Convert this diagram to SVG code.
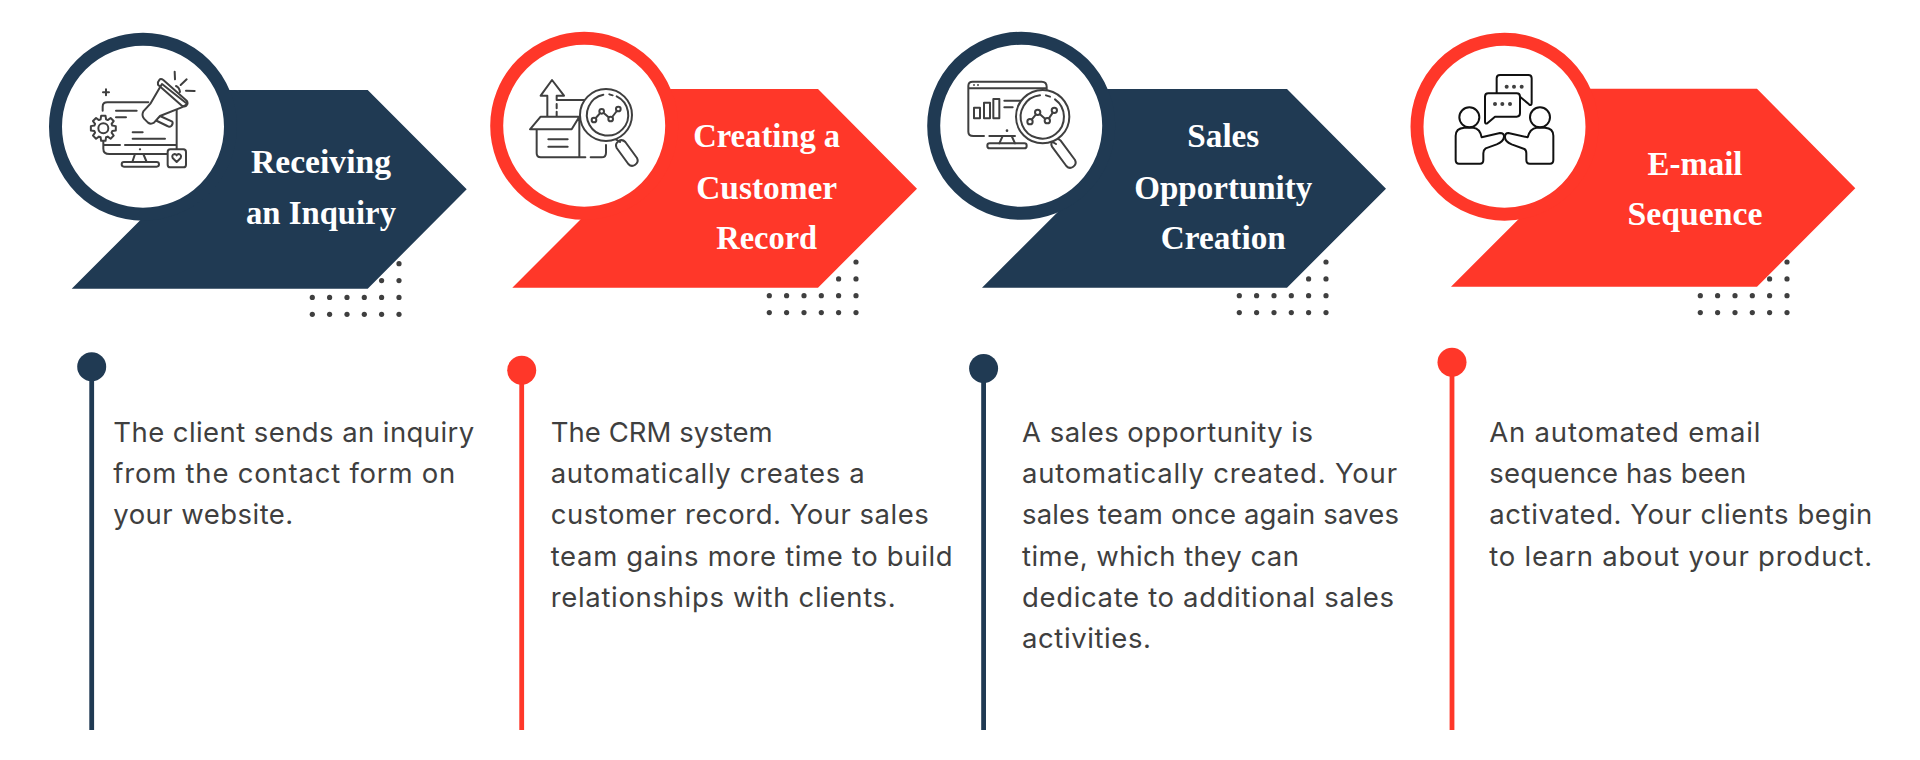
<svg xmlns="http://www.w3.org/2000/svg" xmlns:xlink="http://www.w3.org/1999/xlink" width="1920" height="760" viewBox="0 0 1920 760">
<style>
.navy{fill:#203a53}.red{fill:#ff3729}
.ring{fill:#fff;stroke-width:13}
.ring.n{stroke:#203a53}.ring.r{stroke:#ff3729}
.stem{stroke-width:4.8;fill:none}
.stem.n{stroke:#203a53}.stem.r{stroke:#ff3729}
.h{font-family:"Liberation Serif",serif;font-weight:700;font-size:34px;fill:#fff;text-anchor:middle}
.b{font-family:Inter,"Liberation Sans",sans-serif;font-size:27.5px;fill:#3f3f3f}
.dot{fill:#3f3f3f}
.ic{fill:none;stroke:#3f3f3f;stroke-width:6;stroke-linecap:round;stroke-linejoin:round}
.ic.k{stroke:#111}
.wf{fill:#fff}
.fd{fill:#3f3f3f;stroke:none}
</style>
<defs>
<g id="dots" class="dot">
<circle cx="86.7" cy="0" r="2.6"/>
<circle cx="69.3" cy="16.9" r="2.6"/><circle cx="86.7" cy="16.9" r="2.6"/>
<circle cx="0" cy="33.7" r="2.6"/><circle cx="17.3" cy="33.7" r="2.6"/><circle cx="34.7" cy="33.7" r="2.6"/><circle cx="52" cy="33.7" r="2.6"/><circle cx="69.3" cy="33.7" r="2.6"/><circle cx="86.7" cy="33.7" r="2.6"/>
<circle cx="0" cy="50.6" r="2.6"/><circle cx="17.3" cy="50.6" r="2.6"/><circle cx="34.7" cy="50.6" r="2.6"/><circle cx="52" cy="50.6" r="2.6"/><circle cx="69.3" cy="50.6" r="2.6"/><circle cx="86.7" cy="50.6" r="2.6"/>
</g>
</defs>
<rect width="1920" height="760" fill="#fff"/>

<g id="connectors">
<line class="stem n" x1="91.7" y1="367" x2="91.7" y2="730"/>
<line class="stem r" x1="521.7" y1="370" x2="521.7" y2="730"/>
<line class="stem n" x1="983.6" y1="369" x2="983.6" y2="730"/>
<line class="stem r" x1="1452" y1="362" x2="1452" y2="730"/>
</g>

<g id="step-1">
<polygon class="navy" points="229,90 367.7,90 466.7,189.3 367.7,288.7 71.7,288.7 160,200.4"/>
<circle class="ring n" cx="143" cy="126.7" r="87.5"/>
<use xlink:href="#dots" href="#dots" x="312.3" y="263.7"/>
<g transform="translate(80 70) scale(.33333)">
<path class="ic" d="M68 122V110Q68 97 82 97H205M290 115V238Q290 252 275 252H88Q70 252 70 236V212M70 225H120M135 225H290M165 252L157 276M190 252L200 276"/>
<rect class="ic" x="125" y="276" width="112" height="14" rx="7"/>
<path class="ic" d="M108 122H170M108 142H138M158 187H188M158 206H255M78 58V76M69 67H87M284 5L285 28M302 45L320 28M318 62L344 63"/>
<circle class="fd" cx="180" cy="238" r="3.5"/>
<polygon class="ic wf" transform="translate(70 175)" points="26.8,-8.2 37.4,-6.6 37.4,6.6 26.8,8.2 24.75,13.15 31.1,21.8 21.8,31.1 13.15,24.75 8.2,26.8 6.6,37.4 -6.6,37.4 -8.2,26.8 -13.15,24.75 -21.8,31.1 -31.1,21.8 -24.75,13.15 -26.8,8.2 -37.4,6.6 -37.4,-6.6 -26.8,-8.2 -24.75,-13.15 -31.1,-21.8 -21.8,-31.1 -13.15,-24.75 -8.2,-26.8 -6.6,-37.4 6.6,-37.4 8.2,-26.8 13.15,-24.75 21.8,-31.1 31.1,-21.8 24.75,-13.15"/>
<circle class="ic" cx="70" cy="175" r="15"/>
<path class="ic wf" d="M240 138L277 155Q280 160 274 168Q268 172 262 168L225 150Z"/>
<path class="ic wf" d="M246 42L322 102L305 112L240 138L222 158Q212 164 204 158L192 146Q184 136 190 124L212 100L240 52Z"/>
<path class="ic" d="M238 30Q242 24 250 30L320 92Q326 100 318 108Q312 112 304 106L234 44Q232 36 238 30ZM288 48Q298 52 300 66"/>
<rect class="ic wf" x="263" y="238" width="55" height="54" rx="8"/>
<path class="ic" d="M290 276L278 264Q274 254 284 252Q288 252 290 256Q292 252 296 252Q306 254 302 264Z"/>
</g>
<text class="h" x="321" y="173" textLength="140" lengthAdjust="spacingAndGlyphs">Receiving</text>
<text class="h" x="321" y="223.6" textLength="150" lengthAdjust="spacingAndGlyphs">an Inquiry</text>
</g>

<g id="step-2">
<polygon class="red" points="670.5,89 818,89 917,188.7 818,287.7 512.3,287.7 600,200"/>
<circle class="ring r" cx="584.2" cy="125.8" r="87.5"/>
<use xlink:href="#dots" href="#dots" x="769.3" y="262"/>
<g transform="translate(520 70) scale(.33333)">
<path class="ic" d="M50 178V250Q50 262 62 262H178M178 140V262H196M212 262H245Q258 262 258 248V225M30 178L62 140H178L155 178ZM85 208H143M85 230H143"/>
<path class="ic" d="M82 138V77H62L96 30L132 77H110V90M110 90H195M110 102V115M110 125V138"/>
<path class="ic" d="M283 205L300 216M316 216L351 264A16 16 0 0 1 325 282L290 234A16 16 0 0 1 316 216Z"/>
<circle class="ic wf" cx="258" cy="135" r="78"/>
<path class="ic" d="M290 79A62 62 0 1 1 250 74M268 73L278 76"/>
<path class="ic" d="M222 150L245 124L272 147L295 117"/>
<circle class="ic wf" cx="222" cy="150" r="7"/><circle class="ic wf" cx="245" cy="124" r="7"/><circle class="ic wf" cx="272" cy="147" r="7"/><circle class="ic wf" cx="295" cy="117" r="7"/>
</g>
<text class="h" x="766.7" y="147" textLength="147" lengthAdjust="spacingAndGlyphs">Creating a</text>
<text class="h" x="766.7" y="198.6" textLength="141" lengthAdjust="spacingAndGlyphs">Customer</text>
<text class="h" x="766.7" y="248.6" textLength="101" lengthAdjust="spacingAndGlyphs">Record</text>
</g>

<g id="step-3">
<polygon class="navy" points="1106.5,89 1287,89 1386,188.7 1287,287.7 982,287.7 1070,199.7"/>
<circle class="ring n" cx="1021.2" cy="125.8" r="87.5"/>
<use xlink:href="#dots" href="#dots" x="1239.3" y="262"/>
<g transform="translate(960 70) scale(.33333)">
<path class="ic" d="M25 185V48Q25 35 38 35H245Q260 35 260 50V62M25 55H258M25 185Q25 198 40 198H72M88 198H165M128 198L118 220M155 198L165 220"/>
<rect class="ic" x="82" y="220" width="118" height="15" rx="7"/>
<rect class="ic" x="42" y="113" width="18" height="32"/><rect class="ic" x="72" y="98" width="18" height="47"/><rect class="ic" x="100" y="87" width="18" height="58"/>
<path class="ic" d="M133 92H185M133 112H158"/>
<circle class="fd" cx="42" cy="45" r="2.8"/><circle class="fd" cx="54" cy="45" r="2.8"/><circle class="fd" cx="141" cy="182" r="4"/>
<path class="ic" d="M276 215L288 222M302 212L345 270A16 16 0 0 1 319 288L276 230A16 16 0 0 1 302 212Z"/>
<circle class="ic wf" cx="248" cy="140" r="80"/>
<path class="ic" d="M285 88A65 65 0 1 1 240 76M258 76L270 80"/>
<path class="ic" d="M210 155L233 127L262 152L283 121"/>
<circle class="ic wf" cx="210" cy="155" r="8"/><circle class="ic wf" cx="233" cy="127" r="8"/><circle class="ic wf" cx="262" cy="152" r="8"/><circle class="ic wf" cx="283" cy="121" r="8"/>
</g>
<text class="h" x="1223.3" y="147" textLength="72" lengthAdjust="spacingAndGlyphs">Sales</text>
<text class="h" x="1223.3" y="198.6" textLength="178" lengthAdjust="spacingAndGlyphs">Opportunity</text>
<text class="h" x="1223.3" y="248.6" textLength="125" lengthAdjust="spacingAndGlyphs">Creation</text>
</g>

<g id="step-4">
<polygon class="red" points="1590,88.7 1757,88.7 1855.3,188.3 1757,286.7 1451,286.7 1530,207.7"/>
<circle class="ring r" cx="1504.5" cy="126.7" r="87.5"/>
<use xlink:href="#dots" href="#dots" x="1700.3" y="262"/>
<g transform="translate(1445 65) scale(.33333)">
<path class="ic k" d="M155 85V40Q155 30 165 30H250Q260 30 260 40V113Q260 124 252 118L225 95"/>
<path class="ic k wf" d="M130 85H215Q225 85 225 95V145Q225 155 215 155H150L127 175Q120 178 120 170V95Q120 85 130 85Z"/>
<circle class="fd" cx="150" cy="117" r="6"/><circle class="fd" cx="172" cy="117" r="6"/><circle class="fd" cx="195" cy="117" r="6"/>
<circle class="fd" cx="185" cy="65" r="6"/><circle class="fd" cx="207" cy="65" r="6"/><circle class="fd" cx="230" cy="65" r="6"/>
<circle class="ic k" cx="73" cy="157" r="30"/>
<circle class="ic k" cx="285" cy="157" r="30"/>
<path class="ic k" d="M32 212Q32 190 58 188H85Q105 190 110 217L165 204Q178 204 177 216Q175 230 155 238L122 250Q115 255 115 265V285Q115 296 105 296H42Q32 296 32 285Z"/>
<path class="ic k" d="M325 212Q325 190 300 188H275Q255 190 248 217L190 204Q180 204 180 216Q180 230 200 238L238 252Q244 255 244 265V285Q244 296 254 296H315Q325 296 325 285Z"/>
</g>
<text class="h" x="1695" y="175.3" textLength="95" lengthAdjust="spacingAndGlyphs">E-mail</text>
<text class="h" x="1695" y="225.3" textLength="135" lengthAdjust="spacingAndGlyphs">Sequence</text>
</g>

<g id="detail-1">
<circle class="navy" cx="91.7" cy="366.7" r="14.5"/>
<text class="b" x="113.3" y="441.7" textLength="361">The client sends an inquiry</text>
<text class="b" x="113.3" y="482.7" textLength="342">from the contact form on</text>
<text class="b" x="113.3" y="524.3" textLength="180">your website.</text>
</g>
<g id="detail-2">
<circle class="red" cx="521.7" cy="370.3" r="14.5"/>
<text class="b" x="550.7" y="441.7" textLength="222">The CRM system</text>
<text class="b" x="550.7" y="482.7" textLength="314">automatically creates a</text>
<text class="b" x="550.7" y="524.3" textLength="378">customer record. Your sales</text>
<text class="b" x="550.7" y="565.7" textLength="402">team gains more time to build</text>
<text class="b" x="550.7" y="606.7" textLength="345">relationships with clients.</text>
</g>
<g id="detail-3">
<circle class="navy" cx="983.6" cy="368.6" r="14.5"/>
<text class="b" x="1022" y="441.7" textLength="291">A sales opportunity is</text>
<text class="b" x="1022" y="482.7" textLength="375">automatically created. Your</text>
<text class="b" x="1022" y="524.3" textLength="377">sales team once again saves</text>
<text class="b" x="1022" y="565.7" textLength="277">time, which they can</text>
<text class="b" x="1022" y="606.7" textLength="372">dedicate to additional sales</text>
<text class="b" x="1022" y="648.3" textLength="129">activities.</text>
</g>
<g id="detail-4">
<circle class="red" cx="1452" cy="362.3" r="14.5"/>
<text class="b" x="1489.3" y="441.7" textLength="271">An automated email</text>
<text class="b" x="1489.3" y="482.7" textLength="257">sequence has been</text>
<text class="b" x="1489.3" y="524.3" textLength="383">activated. Your clients begin</text>
<text class="b" x="1489.3" y="565.7" textLength="383">to learn about your product.</text>
</g>
</svg>
